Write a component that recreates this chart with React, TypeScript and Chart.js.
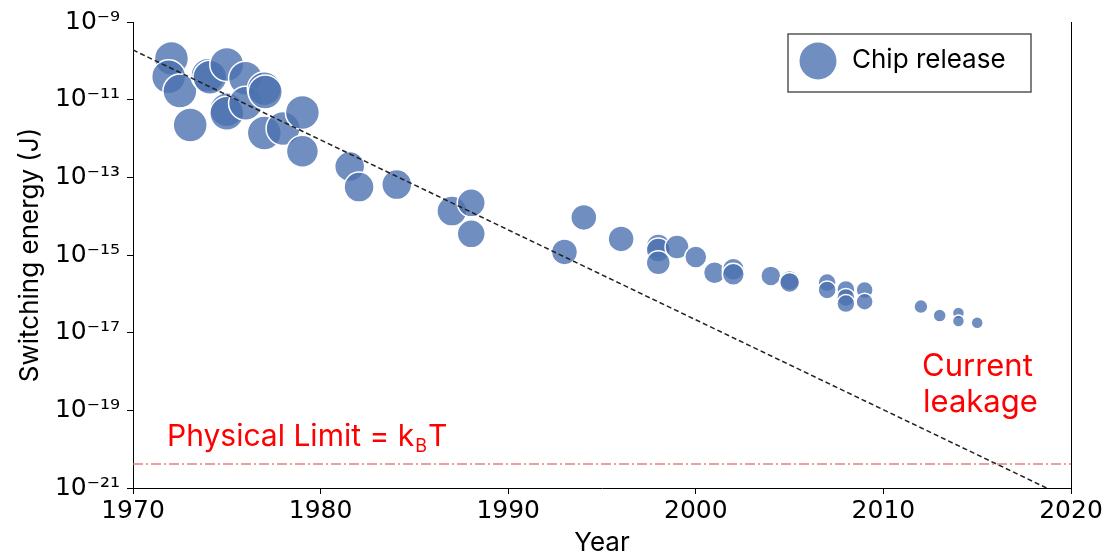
import React, { useEffect, useRef } from "react";
import { Chart, registerables } from "chart.js";

Chart.register(...registerables);

// ---------- data ----------
const years = [
  1972.05, 1971.9, 1972.5, 1973.05, 1974.0, 1974.1, 1975.0, 1975.0, 1975.0, 1976.0,
  1976.0, 1977.0, 1977.05, 1977.0, 1978.0, 1979.03, 1979.03, 1981.55, 1982.05, 1984.06,
  1987.0, 1988.03, 1988.03, 1993.0, 1994.03, 1996.02, 1998.0, 1998.0, 1998.0, 1999.0,
  2000.0, 2001.0, 2002.0, 2002.0, 2004.0, 2005.0, 2005.0, 2007.0, 2007.0, 2008.0,
  2008.0, 2008.0, 2009.0, 2009.0, 2012.0, 2013.0, 2014.0, 2014.0, 2015.0,
];
const energies = [
  1.15e-10, 3.9e-11, 1.66e-11, 2.24e-12, 4.27e-11, 3.8e-11, 8.1e-11, 5.5e-12, 4.47e-12, 3.55e-11,
  8.1e-12, 1.9e-11, 1.58e-11, 1.38e-12, 1.82e-12, 4.7e-12, 4.7e-13, 1.9e-13, 5.6e-14, 6.5e-14,
  1.35e-14, 2.2e-14, 3.5e-15, 1.2e-15, 9.3e-15, 2.6e-15, 1.7e-15, 1.35e-15, 6.3e-16, 1.6e-15,
  8.9e-16, 3.5e-16, 4.3e-16, 3.2e-16, 2.9e-16, 2.2e-16, 1.95e-16, 1.95e-16, 1.26e-16, 1.3e-16,
  8.1e-17, 5.6e-17, 1.26e-16, 6.3e-17, 4.7e-17, 2.75e-17, 3.2e-17, 2.0e-17, 1.8e-17,
];
const bubbleRadii = [
  17, 17, 17, 17, 17, 17, 17, 17, 17, 17,
  17, 17, 17, 17, 17, 17, 16, 15, 15, 15,
  15, 14, 14, 13, 13, 13, 12, 12, 12, 12,
  11, 11, 11, 11, 10, 10, 10, 9, 9, 9,
  9, 9, 8.5, 8.5, 7, 6.5, 6, 6, 6,
];
const trendYears = [1970, 2020];
const trendEnergies = [1.9e-10, 5e-22];
const limitYears = [1970, 2020];
const kBT = 4.14e-21;
const xTickValues = [1970, 1980, 1990, 2000, 2010, 2020];
const yTickExponents = [-21, -19, -17, -15, -13, -11, -9];
const seriesLabel = "Chip release";
const xTitle = "Year";
const yTitle = "Switching energy (J)";
const limitText = "Physical Limit = k";
const limitSub = "B";
const limitTail = "T";
const leakageLines = ["Current", "leakage"];

// ---------- helpers ----------
const SUP: Record<string, string> = {
  "-": "\u207B", "0": "\u2070", "1": "\u00B9", "2": "\u00B2", "3": "\u00B3",
  "4": "\u2074", "5": "\u2075", "6": "\u2076", "7": "\u2077", "8": "\u2078", "9": "\u2079",
};
const supStr = (n: number) => String(n).split("").map((c) => SUP[c] || c).join("");

const BUBBLE_FILL = "rgba(76,114,176,0.8)";
const TEXT_FONT = "Inter, 'Noto Sans', sans-serif";
const TICK_FONT = "'DejaVu Sans', sans-serif";

const overlayPlugin = {
  id: "overlay",
  afterDraw(chart: any) {
    const { ctx, chartArea } = chart;
    ctx.save();
    // right spine
    ctx.strokeStyle = "#000";
    ctx.lineWidth = 1;
    ctx.beginPath();
    ctx.moveTo(chartArea.right + 0.5, chartArea.top);
    ctx.lineTo(chartArea.right + 0.5, chartArea.bottom);
    ctx.stroke();

    // legend
    ctx.fillStyle = "#fff";
    ctx.fillRect(788, 34, 243, 58);
    ctx.strokeStyle = "#555";
    ctx.lineWidth = 1.5;
    ctx.strokeRect(788, 34, 243, 58);
    ctx.beginPath();
    ctx.arc(818, 61, 18.5, 0, Math.PI * 2);
    ctx.fillStyle = BUBBLE_FILL;
    ctx.fill();
    ctx.fillStyle = "#000";
    ctx.font = `26px ${TEXT_FONT}`;
    ctx.textBaseline = "alphabetic";
    ctx.textAlign = "left";
    ctx.fillText(seriesLabel, 852, 68);

    // red annotations
    ctx.fillStyle = "#ff0000";
    ctx.font = `30px ${TEXT_FONT}`;
    ctx.fillText(limitText, 167, 446);
    let w = ctx.measureText(limitText).width;
    ctx.font = `18px ${TEXT_FONT}`;
    ctx.fillText(limitSub, 167 + w + 1, 452);
    const w2 = ctx.measureText(limitSub).width;
    ctx.font = `30px ${TEXT_FONT}`;
    ctx.fillText(limitTail, 167 + w + 1 + w2 + 1, 446);

    ctx.font = `31px ${TEXT_FONT}`;
    ctx.fillText(leakageLines[0], 922, 376);
    ctx.fillText(leakageLines[1], 923, 412);
    ctx.restore();
  },
};

export default function App() {
  const canvasRef = useRef<HTMLCanvasElement | null>(null);

  useEffect(() => {
    if (!canvasRef.current) return;
    const bubbleData = years.map((x, i) => ({ x, y: energies[i], r: bubbleRadii[i] }));
    const trendData = trendYears.map((x, i) => ({ x, y: trendEnergies[i] }));
    const limitData = limitYears.map((x) => ({ x, y: kBT }));

    const chart = new Chart(canvasRef.current, {
      type: "bubble",
      data: {
        datasets: [
          {
            type: "bubble",
            label: seriesLabel,
            data: bubbleData,
            backgroundColor: BUBBLE_FILL,
            borderColor: "#ffffff",
            borderWidth: 1.5,
            order: 3,
          } as any,
          {
            type: "line",
            label: "trend",
            data: trendData,
            borderColor: "#222",
            borderWidth: 1.5,
            borderDash: [5, 3],
            pointRadius: 0,
            fill: false,
            order: 2,
          } as any,
          {
            type: "line",
            label: "limit",
            data: limitData,
            borderColor: "rgba(222,110,110,0.65)",
            borderWidth: 2,
            borderDash: [10, 3, 2, 3],
            pointRadius: 0,
            fill: false,
            order: 1,
          } as any,
        ],
      },
      options: {
        responsive: false,
        animation: false,
        events: [],
        layout: { padding: { top: 20, right: 36, left: 0, bottom: 0 } },
        plugins: {
          legend: { display: false },
          tooltip: { enabled: false },
        },
        scales: {
          x: {
            type: "linear",
            min: 1970,
            max: 2020,
            afterBuildTicks: (scale: any) => {
              scale.ticks = xTickValues.map((v) => ({ value: v }));
            },
            afterFit: (scale: any) => {
              scale.height = 68;
            },
            ticks: {
              color: "#000",
              font: { family: TICK_FONT, size: 25 },
              padding: 2,
              maxRotation: 0,
              callback: (v: any) => String(v),
            },
            grid: {
              display: true,
              drawOnChartArea: false,
              drawTicks: true,
              tickLength: 6,
              color: "#000",
            },
            border: { display: true, color: "#000", width: 1 },
            title: {
              display: true,
              text: xTitle,
              color: "#000",
              font: { family: TEXT_FONT, size: 26, lineHeight: 1 },
              padding: { top: 0, bottom: 0 },
            },
          },
          y: {
            type: "logarithmic",
            min: 1e-21,
            max: 1e-9,
            afterBuildTicks: (scale: any) => {
              scale.ticks = yTickExponents.map((e) => ({ value: Math.pow(10, e) }));
            },
            afterFit: (scale: any) => {
              scale.width = 133;
            },
            ticks: {
              color: "#000",
              font: { family: TICK_FONT, size: 25 },
              padding: 7,
              autoSkip: false,
              callback: (v: any) => "10" + supStr(Math.round(Math.log10(Number(v)))),
            },
            grid: {
              display: true,
              drawOnChartArea: false,
              drawTicks: true,
              tickLength: 6,
              color: "#000",
            },
            border: { display: true, color: "#000", width: 1 },
            title: {
              display: true,
              text: yTitle,
              color: "#000",
              font: { family: TEXT_FONT, size: 26, lineHeight: 1 },
              padding: { top: 17, bottom: 0 },
            },
          },
        },
      } as any,
      plugins: [overlayPlugin],
    });
    return () => chart.destroy();
  }, []);

  return (
    <div style={{ position: "fixed", left: 0, top: 0, width: 1107, height: 556, background: "#fff" }}>
      <canvas ref={canvasRef} width={1107} height={556} style={{ width: 1107, height: 556, display: "block" }} />
    </div>
  );
}
